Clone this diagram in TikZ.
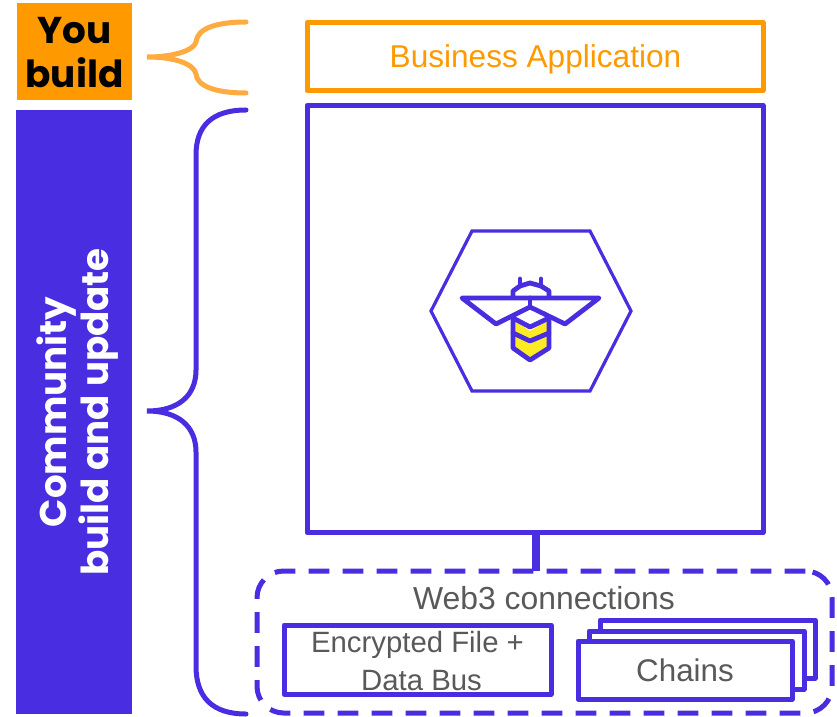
\documentclass[tikz,border=0pt]{standalone}
\usepackage{fontspec}
\setmainfont{Liberation Sans}
\newfontfamily\pop{Poppins}[UprightFont=* Bold]
\definecolor{ind}{HTML}{482EE0}
\definecolor{org}{HTML}{FF9900}
\definecolor{lorg}{HTML}{FFAB40}
\definecolor{gry}{HTML}{595959}
\definecolor{yel}{HTML}{FFEB24}
\tikzset{
  px/.style 2 args={minimum width=0.75*#1,minimum height=0.75*#2,inner sep=0pt,outer sep=0pt,anchor=north west},
  box/.style={draw=ind,line width=3.75pt,fill=white,line join=round},
  lbl/.style={text=gry,font=\fontsize{23.9}{27}\selectfont,align=center,inner sep=0pt},
  hl/.style={inner sep=0pt,align=center},
  bee/.style={draw=ind,line width=3.6pt,line join=round,line cap=round}
}
\begin{document}
\begin{tikzpicture}[x=0.75pt,y=-0.75pt]
\useasboundingbox (0,0) rectangle (837,716);
% side bands
\node[fill=org,px={115}{97}] (you) at (17,3) {};
\node[hl,font=\pop\fontsize{28}{33}\selectfont,text=black] at ([yshift=-0.75pt]you.center) {You\\build};
\node[fill=ind,px={116}{604}] (comm) at (16,110) {};
\node[hl,rotate=90,text=white,font=\pop\fontsize{27.9}{31.5}\selectfont] at (78,412) {Community\\build and update};
% braces
\coordinate (ob) at (147,57);
\draw[draw=lorg,line width=3.75pt,line cap=round] (246,22) .. controls (215,22) and (197,29) .. (196,42) .. controls (194,50) and (175,57) .. (ob) .. controls (175,57) and (194,64) .. (196,74) .. controls (197,86) and (215,93) .. (246,93);
\coordinate (ib) at (147,411);
\draw[draw=ind,line width=3.75pt,line cap=round] (246,110) .. controls (212,110) and (196,126) .. (196,155) -- (196,370) .. controls (196,396) and (178,411) .. (ib) .. controls (178,411) and (196,426) .. (196,452) -- (196,666) .. controls (196,697) and (212,714) .. (246,714);
% business app
\node[draw=org,line width=3.75pt,line join=round,px={456}{68}] (app) at (307,22.5) {};
\node[lbl,text=org,font=\fontsize{23.7}{28}\selectfont] (appl) at (535.5,59.5) {Business Application};
% main box
\node[box,px={456}{427}] (main) at (307,105.5) {};
% dashed
\node[draw=ind,line width=3.75pt,dash pattern=on 15.5pt off 10pt,rounded corners=20pt,px={575}{142}] (web) at (257,571) {};
\coordinate (webtop) at (536,571);
\draw[draw=ind,line width=6pt] (main.south -| webtop) -- (webtop);
\node[lbl] (webl) at (544,598) {Web3 connections};
% encrypted
\node[box,px={267}{69}] (enc) at (284,625) {};
\node[lbl,font=\fontsize{22}{28.5}\selectfont] at ([yshift=-1pt]enc.center) {Encrypted File +\\\hspace*{6pt}Data Bus};
% chains
\node[box,px={215}{58}] (c3) at (600,620) {};
\node[box,px={215}{58}] (c2) at (589,631) {};
\node[box,px={214}{58}] (c1) at (578,641) {};
\node[lbl,font=\fontsize{23.5}{27}\selectfont] at (c1.center) {Chains};
% hexagon
\draw[draw=ind,line width=2.4pt,line join=miter] (472,231) -- (590,231) -- (631,311) -- (590,391) -- (472,391) -- (431,311) -- cycle;
% bee
\fill[yel] (513,320) -- (530,331) -- (549,320) -- (549,348) -- (530,360) -- (513,348) -- cycle;
\draw[bee] (462,298) -- (599,298) -- (565,324) -- (530,307) -- (496,324) -- cycle;
\draw[bee] (530,298) -- (530,307);
\draw[bee] (513,296) -- (513,291) -- (520,286) -- (530,283) -- (541,286) -- (549,291) -- (549,296);
\draw[bee] (520,286) -- (520,279);
\draw[bee] (541,286) -- (541,279);
\draw[bee] (513,318) -- (513,348) -- (530,360) -- (549,348) -- (549,318);
\draw[bee] (513,318) -- (530,327) -- (549,318);
\draw[bee] (513,333) -- (530,341) -- (549,333);
\end{tikzpicture}
\end{document}
